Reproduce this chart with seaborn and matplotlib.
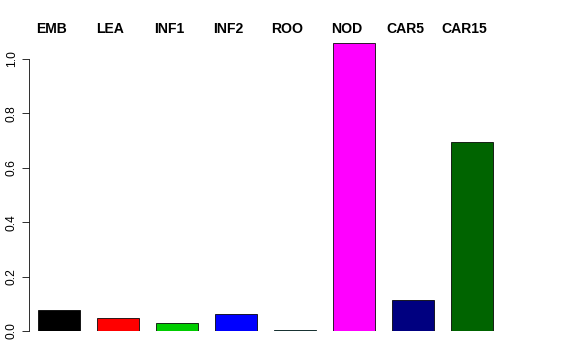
import matplotlib
matplotlib.use("Agg")
import matplotlib.pyplot as plt
import matplotlib.transforms as mtransforms
import seaborn as sns
import pandas as pd

categories = ["EMB", "LEA", "INF1", "INF2", "ROO", "NOD", "CAR5", "CAR15"]
values = [0.077, 0.048, 0.029, 0.062, 0.002, 1.059, 0.114, 0.695]
colors = ["#000000", "#FF0000", "#00CD00", "#0000FF", "#00FFFF", "#FF00FF", "#000080", "#006400"]
yticks = [0.0, 0.2, 0.4, 0.6, 0.8, 1.0]

sns.set_style("white")
plt.rcParams["font.family"] = ["Liberation Sans", "DejaVu Sans"]
plt.rcParams["text.color"] = "black"
plt.rcParams["ytick.color"] = "black"

df = pd.DataFrame({"cat": categories, "val": values})

W, H = 576, 360
fig = plt.figure(figsize=(W / 72, H / 72), dpi=72)
ax_left, ax_right, ax_top, ax_bottom = 29, 576, 43, 331
ax = fig.add_axes([ax_left / W, (H - ax_bottom) / H, (ax_right - ax_left) / W, (ax_bottom - ax_top) / H])

sns.barplot(data=df, x="cat", y="val", hue="cat", palette=colors, legend=False,
            width=0.71, edgecolor="#000000", linewidth=0.8, ax=ax, saturation=1)

c0, step = 59, 59
ax.set_xlim((ax_left - c0) / step, (ax_right - c0) / step)
ax.set_ylim(0, values[5])

for s in ["top", "right", "bottom"]:
    ax.spines[s].set_visible(False)
ax.spines["left"].set_bounds(0, 1.0)
ax.spines["left"].set_color("#000000")
ax.spines["left"].set_linewidth(0.8)
ax.set_yticks(yticks)
ax.set_yticklabels([f"{t:.1f}" for t in yticks], rotation=90, va="center", fontsize=12, color="black")
ax.tick_params(axis="y", which="both", left=True, length=7, width=0.8, color="#000000", pad=4)
ax.set_xticks([])
ax.set_xlabel("")
ax.set_ylabel("")

trans = mtransforms.blended_transform_factory(ax.transData, fig.transFigure)
for i, c in enumerate(categories):
    ax.text(i - 0.13, (H - 29) / H, c, transform=trans, ha="center", va="center",
            fontsize=14, fontweight="bold", color="black")

fig.savefig("out.png", dpi=72)
